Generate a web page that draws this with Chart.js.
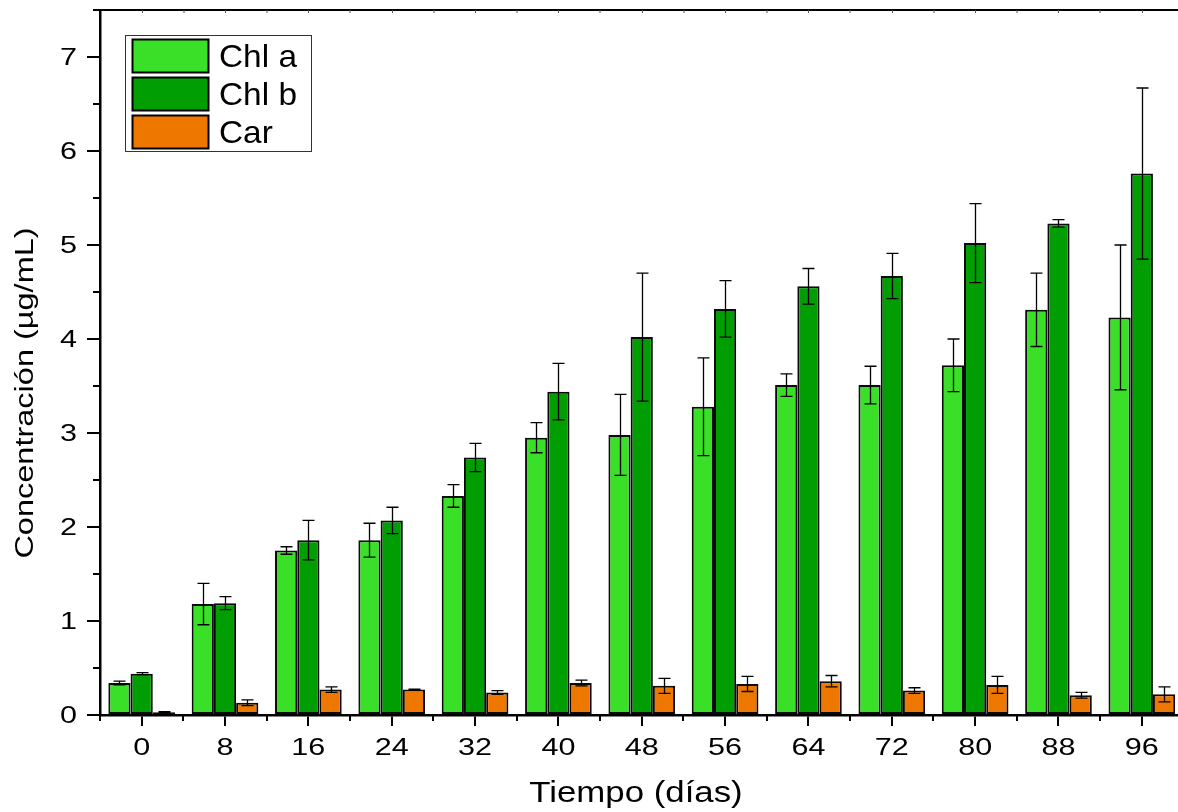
<!DOCTYPE html>
<html>
<head>
<meta charset="utf-8">
<script src="https://cdn.jsdelivr.net/npm/chart.js@4/dist/chart.umd.min.js"></script>
<style>
  html, body { margin: 0; padding: 0; background: #fff; overflow: hidden; width: 1178px; height: 812px; }
  #wrap { width: 1200px; height: 812px; }
</style>
</head>
<body>
<div id="wrap"><canvas id="chart" width="1200" height="812"></canvas></div>
<script>
// Sampling days
const days = ['0', '8', '16', '24', '32', '40', '48', '56', '64', '72', '80', '88', '96'];

// Chlorophyll a (µg/mL) and its standard deviation
const chlA    = [0.34, 1.18, 1.75, 1.86, 2.33, 2.95, 2.98, 3.28, 3.51, 3.51, 3.72, 4.31, 4.23];
const chlAErr = [0.02, 0.22, 0.04, 0.18, 0.12, 0.16, 0.43, 0.52, 0.12, 0.20, 0.28, 0.39, 0.77];

// Chlorophyll b (µg/mL) and its standard deviation
const chlB    = [0.44, 1.19, 1.86, 2.07, 2.74, 3.44, 4.02, 4.32, 4.56, 4.67, 5.02, 5.23, 5.76];
const chlBErr = [0.01, 0.07, 0.21, 0.14, 0.15, 0.30, 0.68, 0.30, 0.19, 0.24, 0.42, 0.04, 0.91];

// Carotenoids (µg/mL) and their standard deviation
const car     = [0.03, 0.13, 0.27, 0.27, 0.24, 0.34, 0.31, 0.33, 0.36, 0.26, 0.32, 0.21, 0.22];
const carErr  = [0.005, 0.03, 0.03, 0.005, 0.02, 0.03, 0.08, 0.08, 0.06, 0.03, 0.09, 0.03, 0.08];

// Y axis tick values and labels
const yTicks = [0, 1, 2, 3, 4, 5, 6, 7];
const yTickLabels = ['0', '1', '2', '3', '4', '5', '6', '7'];

// Axis titles
const xTitle = 'Tiempo (días)';
const yTitle = 'Concentración (µg/mL)';

const FONT = "'Liberation Sans', Arial, Helvetica, sans-serif";
Chart.defaults.font.family = FONT;
Chart.defaults.color = '#000';

// Text with a wide (horizontally stretched) face
function wideText(ctx, text, x, y, size, sx, align, rot) {
  ctx.save();
  ctx.translate(x, y);
  if (rot) ctx.rotate(rot);
  ctx.scale(sx, 1);
  ctx.font = size + 'px ' + FONT;
  ctx.fillStyle = '#000';
  ctx.textAlign = align;
  ctx.textBaseline = 'alphabetic';
  ctx.fillText(text, 0, 0);
  ctx.restore();
}

// Error bars (mean ± SD) drawn on top of every bar
const errorBars = {
  id: 'errorBars',
  afterDatasetsDraw(chart) {
    const ctx = chart.ctx;
    const yScale = chart.scales.y;
    ctx.save();
    ctx.strokeStyle = '#000';
    ctx.lineWidth = 1.3;
    chart.data.datasets.forEach((ds, di) => {
      const meta = chart.getDatasetMeta(di);
      meta.data.forEach((bar, i) => {
        const v = ds.data[i], e = ds.errors[i];
        const yTop = yScale.getPixelForValue(v + e);
        const yBot = yScale.getPixelForValue(Math.max(0, v - e));
        const x = Math.round(bar.x) + 0.5;
        const cap = 6;
        ctx.beginPath();
        ctx.moveTo(x, yTop); ctx.lineTo(x, yBot);
        ctx.moveTo(x - cap, yTop); ctx.lineTo(x + cap, yTop);
        ctx.moveTo(x - cap, yBot); ctx.lineTo(x + cap, yBot);
        ctx.stroke();
      });
    });
    ctx.restore();
  }
};

// Top frame line, minor ticks, tick labels, axis titles and the boxed legend
const frame = {
  id: 'frame',
  afterDraw(chart) {
    const ctx = chart.ctx;
    const { left, top, bottom } = chart.chartArea;
    const xs = chart.scales.x, ys = chart.scales.y;
    const half = (xs.getPixelForValue(1) - xs.getPixelForValue(0)) / 2;
    ctx.save();

    // top line
    ctx.strokeStyle = '#000';
    ctx.lineWidth = 2;
    ctx.beginPath();
    ctx.moveTo(left - 7, top); ctx.lineTo(chart.width, top);
    ctx.stroke();

    // small inward ticks along the top line
    ctx.lineWidth = 1;
    ctx.strokeStyle = '#555';
    ctx.beginPath();
    days.forEach((d, i) => {
      const c = Math.round(xs.getPixelForValue(i)) + 0.5;
      const b = Math.round(c + half);
      ctx.moveTo(c, top); ctx.lineTo(c, top + 3);
      ctx.moveTo(b, top); ctx.lineTo(b, top + 3);
    });
    ctx.stroke();

    // minor x ticks at the category boundaries
    ctx.strokeStyle = '#000';
    ctx.lineWidth = 2;
    ctx.beginPath();
    for (let i = 0; i <= days.length; i++) {
      const b = Math.round(xs.getPixelForValue(0) - half + i * 2 * half);
      ctx.moveTo(b, bottom); ctx.lineTo(b, bottom + 6);
    }
    // minor y ticks at the half units
    for (let v = 0.5; v < ys.max; v += 1) {
      const y = Math.round(ys.getPixelForValue(v));
      ctx.moveTo(left - 7, y); ctx.lineTo(left, y);
    }
    ctx.stroke();

    // tick labels
    days.forEach((d, i) => wideText(ctx, d, xs.getPixelForValue(i), bottom + 40, 23.5, 1.3, 'center'));
    yTicks.forEach((v, i) => wideText(ctx, yTickLabels[i], left - 23, ys.getPixelForValue(v) + 8, 23.5, 1.3, 'right'));

    // axis titles
    wideText(ctx, xTitle, 636, 802, 29.5, 1.18, 'center');
    wideText(ctx, yTitle, 33, 393, 26, 1.25, 'center', -Math.PI / 2);

    // legend
    const lx = 125, ly = 35, lw = 186, lh = 116;
    ctx.fillStyle = '#fff';
    ctx.fillRect(lx, ly, lw, lh);
    ctx.strokeStyle = '#333';
    ctx.lineWidth = 1;
    ctx.strokeRect(lx + 0.5, ly + 0.5, lw, lh);
    chart.data.datasets.forEach((ds, i) => {
      const sy = 39.5 + i * 38;
      ctx.fillStyle = ds.backgroundColor;
      ctx.fillRect(132.5, sy, 76, 33);
      ctx.strokeStyle = '#000';
      ctx.lineWidth = 2;
      ctx.strokeRect(132.5, sy, 76, 33);
      wideText(ctx, ds.label, 219, sy + 27, 31.5, 1.06, 'left');
    });
    ctx.restore();
  }
};

const barStyle = { borderColor: '#0a0a0a', borderWidth: 2, borderSkipped: false, barPercentage: 1.0, categoryPercentage: 0.8 };

new Chart(document.getElementById('chart'), {
  type: 'bar',
  data: {
    labels: days,
    datasets: [
      Object.assign({ label: 'Chl a', data: chlA, errors: chlAErr, backgroundColor: '#3ae027' }, barStyle),
      Object.assign({ label: 'Chl b', data: chlB, errors: chlBErr, backgroundColor: '#009e03' }, barStyle),
      Object.assign({ label: 'Car',   data: car,  errors: carErr,  backgroundColor: '#ee7700' }, barStyle)
    ]
  },
  options: {
    responsive: false,
    animation: false,
    devicePixelRatio: 1,
    layout: { padding: { left: 0, right: 16.5, top: 10, bottom: 0 } },
    plugins: { legend: { display: false }, tooltip: { enabled: false } },
    scales: {
      x: {
        offset: true,
        grid: { display: true, drawOnChartArea: false, offset: false, drawTicks: true, tickLength: 11, lineWidth: 2, color: '#000' },
        border: { display: true, color: '#000', width: 2.5 },
        ticks: { display: false },
        afterFit(s) { s.height = 97; s.paddingLeft = 0; s.paddingRight = 0; }
      },
      y: {
        min: 0,
        max: 7.5,
        afterBuildTicks(s) { s.ticks = yTicks.map(v => ({ value: v })); },
        grid: { display: true, drawOnChartArea: false, drawTicks: true, tickLength: 13, lineWidth: 2, color: '#000' },
        border: { display: true, color: '#000', width: 2.5 },
        ticks: { display: false },
        afterFit(s) { s.width = 100; s.paddingTop = 0; s.paddingBottom = 0; }
      }
    }
  },
  plugins: [errorBars, frame]
});
</script>
</body>
</html>
